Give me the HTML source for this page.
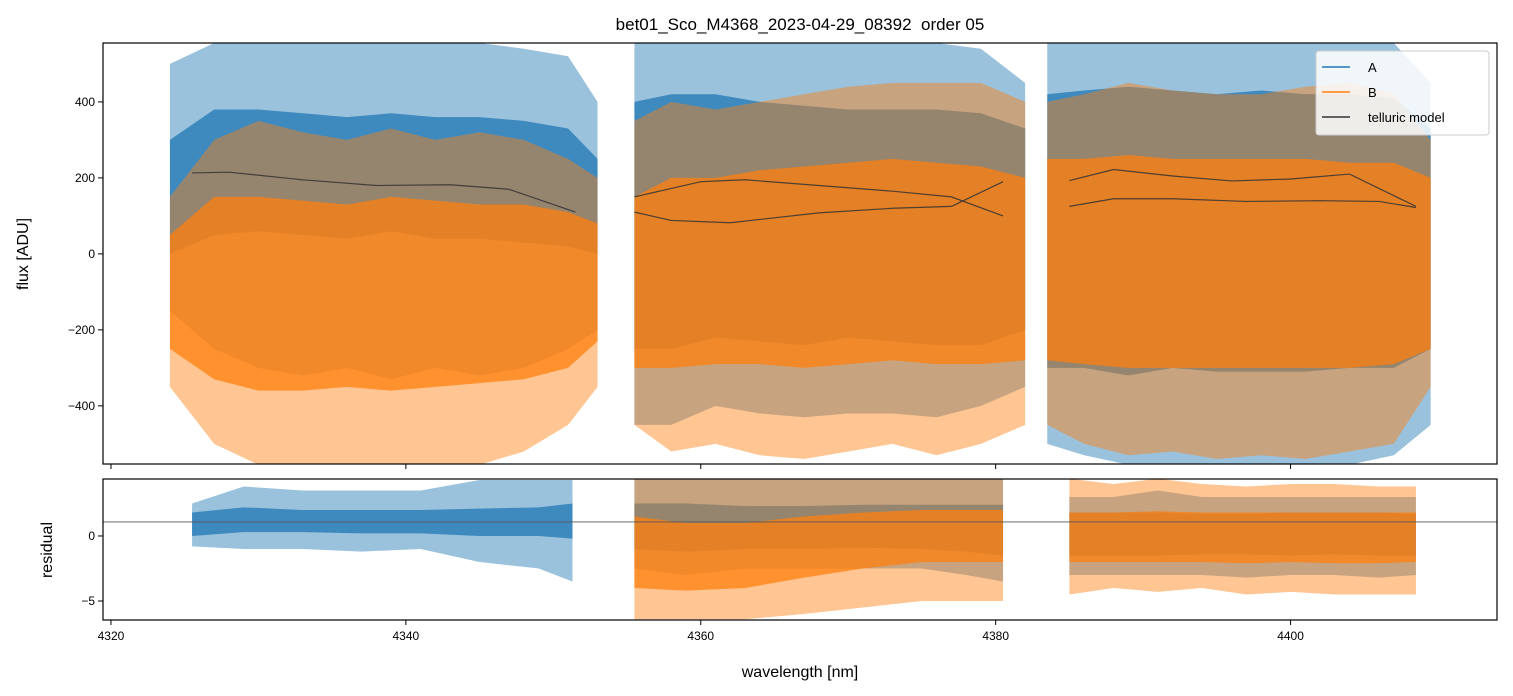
<!DOCTYPE html>
<html><head><meta charset="utf-8"><style>
html,body{margin:0;padding:0;background:#fff;}
svg{display:block;font-family:"Liberation Sans","DejaVu Sans",sans-serif;}
</style></head><body>
<svg id="chart" width="1513" height="696" viewBox="0 0 1513 696">
<rect width="1513" height="696" fill="#fff"/>
<text x="800" y="30" font-size="17" text-anchor="middle" style="white-space:pre">bet01_Sco_M4368_2023-04-29_08392  order 05</text>
<g id="topg"></g>
<g id="botg"></g>
<text transform="translate(28,254) rotate(-90)" font-size="16" text-anchor="middle">flux [ADU]</text>
<text transform="translate(52,550) rotate(-90)" font-size="16" text-anchor="middle">residual</text>
<text x="800" y="677" font-size="16" text-anchor="middle">wavelength [nm]</text>
<g>
<rect x="1316" y="51" width="173" height="84" rx="3" fill="#fff" fill-opacity="0.85" stroke="#ccc"/>
<line x1="1322" y1="67" x2="1350" y2="67" stroke="#1f77b4" stroke-width="1.5"/>
<text x="1368" y="72" font-size="13">A</text>
<line x1="1322" y1="92" x2="1350" y2="92" stroke="#ff7f0e" stroke-width="1.5"/>
<text x="1368" y="97" font-size="13">B</text>
<line x1="1322" y1="117" x2="1350" y2="117" stroke="#333" stroke-width="1.5"/>
<text x="1368" y="122" font-size="13">telluric model</text>
</g>
</svg>
<script>
const xTicks = [4320, 4340, 4360, 4380, 4400];
const fluxTicks = [400, 200, 0, -200, -400];
const resTicks = [0, -5];
const resTickLabels = ["0", "\u22125"];
const fluxSegWl = [
  [4324,4327,4330,4333,4336,4339,4342,4345,4348,4351,4353],
  [4355.5,4358,4361,4364,4367,4370,4373,4376,4379,4382],
  [4383.5,4386,4389,4392,4395,4398,4401,4404,4407,4409.5]
];
const aOuterHi = [[500,555,555,555,555,555,555,555,540,520,400],[555,555,555,555,555,555,555,555,540,450],[555,555,555,555,555,555,555,555,555,450]];
const aOuterLo = [[-150,-250,-300,-320,-300,-330,-300,-320,-300,-250,-200],[-450,-450,-400,-420,-430,-420,-420,-430,-400,-350],[-500,-530,-555,-555,-555,-555,-555,-555,-530,-450]];
const aCoreHi = [[300,380,380,370,360,370,360,360,350,330,250],[400,420,420,400,390,380,380,380,370,330],[420,430,440,430,420,430,420,420,410,330]];
const aCoreLo = [[0,50,60,50,40,60,40,40,30,20,0],[-250,-250,-220,-230,-240,-220,-230,-240,-240,-200],[-300,-300,-320,-300,-310,-310,-310,-300,-300,-250]];
const bOuterHi = [[150,300,350,320,300,330,300,320,300,250,200],[350,400,380,400,420,440,450,450,450,400],[400,420,450,430,420,420,440,450,420,300]];
const bOuterLo = [[-350,-500,-555,-555,-555,-555,-555,-555,-520,-450,-350],[-450,-520,-500,-530,-540,-520,-500,-530,-500,-450],[-450,-500,-530,-520,-540,-530,-540,-520,-500,-350]];
const bCoreHi = [[50,150,150,140,130,150,140,130,130,110,80],[150,200,200,220,230,240,250,240,230,200],[250,250,260,250,250,250,250,240,240,200]];
const bCoreLo = [[-250,-330,-360,-360,-350,-360,-350,-340,-330,-300,-230],[-300,-300,-290,-290,-300,-290,-280,-290,-290,-280],[-280,-290,-300,-300,-300,-300,-300,-300,-290,-250]];
const telWl = [[4325.5,4328,4333,4338,4343,4347,4351.5],[4355.5,4360,4363,4368,4373,4377,4380.5],[4355.5,4358,4362,4368,4373,4377,4380.5],[4385,4388,4392,4396,4400,4404,4408.5],[4385,4388,4392,4397,4402,4406,4408.5]];
const telVal = [[213,215,195,180,182,170,110],[150,190,195,180,165,150,100],[110,88,82,108,120,125,190],[193,222,205,192,197,210,125],[125,145,145,138,140,138,122]];
const resSegWl = [[4325.5,4329,4333,4337,4341,4345,4349,4351.3],[4355.5,4359,4363,4367,4371,4375,4378,4380.5],[4385,4388,4391,4394,4397,4400,4403,4406,4408.5]];
const raHi = [[2.5,3.8,3.5,3.5,3.5,4.3,4.3,4.3],[4.4,4.4,4.4,4.4,4.4,4.4,4.4,4.4],[3,3,3.5,3,3,3,3,3,3]];
const raLo = [[-0.8,-1,-1,-1.2,-1,-2,-2.5,-3.5],[-2.5,-3,-2.5,-2.5,-2.5,-2.5,-3,-3.5],[-3,-3,-3,-3,-3.2,-3,-3,-3.2,-3]];
const raCoreHi = [[1.8,2.2,2,2,2,2.1,2.2,2.5],[2.5,2.5,2.3,2.3,2.4,2.4,2.4,2.4],[1.8,1.8,1.8,1.7,1.7,1.8,1.8,1.8,1.7]];
const raCoreLo = [[0,0.3,0.3,0.2,0.2,0,0,-0.2],[-1,-1.2,-1,-1,-0.9,-1,-1.2,-1.5],[-1.5,-1.5,-1.5,-1.4,-1.4,-1.5,-1.4,-1.5,-1.5]];
const rbHi = [null,[4.4,4.4,4.4,4.4,4.4,4.4,4.4,4.4],[4.4,4,4.4,4,3.8,4,4,3.8,3.8]];
const rbLo = [null,[-6.4,-6.4,-6.4,-6,-5.5,-5,-5,-5],[-4.5,-4,-4.3,-4,-4.5,-4.3,-4.5,-4.5,-4.5]];
const rbCoreHi = [null,[1.5,1,1,1.5,1.8,2,2,2],[1.8,1.8,1.9,1.8,1.8,1.8,1.8,1.8,1.8]];
const rbCoreLo = [null,[-4,-4.2,-4,-3.2,-2.5,-2,-2,-2],[-2,-2,-2,-2,-2.1,-2,-2.1,-2.1,-2]];
const refLine = 1.08;

const NS="http://www.w3.org/2000/svg";
const X0=103,X1=1497,XMIN=4319.46,XMAX=4414.0;
const sx=w=>X0+(w-XMIN)/(XMAX-XMIN)*(X1-X0);
const T0=43,T1=464,F_MAX=555,F_MIN=-553;
const sy=v=>T0+(F_MAX-v)/(F_MAX-F_MIN)*(T1-T0);
const B0=479,B1=620,R_MAX=4.38,R_MIN=-6.46;
const ry=v=>B0+(R_MAX-v)/(R_MAX-R_MIN)*(B1-B0);
function mk(tag,attrs,parent){const e=document.createElementNS(NS,tag);for(const k in attrs)e.setAttribute(k,attrs[k]);parent.appendChild(e);return e;}
const topG=document.getElementById('topg'),botG=document.getElementById('botg');
const defs=mk('defs',{},document.getElementById('chart'));
const c1=mk('clipPath',{id:'ct'},defs);mk('rect',{x:X0,y:T0,width:X1-X0,height:T1-T0},c1);
const c2=mk('clipPath',{id:'cb'},defs);mk('rect',{x:X0,y:B0,width:X1-X0,height:B1-B0},c2);
const gt=mk('g',{'clip-path':'url(#ct)'},topG),gb=mk('g',{'clip-path':'url(#cb)'},botG);
function band(g,wl,hi,lo,yf,col,op,name){
  let pts=wl.map((w,i)=>sx(w)+','+yf(hi[i]));
  for(let i=wl.length-1;i>=0;i--)pts.push(sx(wl[i])+','+yf(lo[i]));
  const p=mk('polygon',{points:pts.join(' '),fill:col,'fill-opacity':op},g);
  
  
}
for(let s=0;s<3;s++){
  band(gt,fluxSegWl[s],aOuterHi[s],aOuterLo[s],sy,'#1f77b4',0.45,'series-a-envelope');
  band(gt,fluxSegWl[s],aCoreHi[s],aCoreLo[s],sy,'#1f77b4',0.75,'series-a-core');
}
for(let s=0;s<3;s++){
  band(gt,fluxSegWl[s],bOuterHi[s],bOuterLo[s],sy,'#ff7f0e',0.45,'series-b-envelope');
  band(gt,fluxSegWl[s],bCoreHi[s],bCoreLo[s],sy,'#ff7f0e',0.75,'series-b-core');
}
telWl.forEach((wl,i)=>{
  const p=mk('polyline',{points:wl.map((w,j)=>sx(w)+','+sy(telVal[i][j])).join(' '),fill:'none',stroke:'#333',"stroke-width":1.2,"stroke-opacity":0.85},gt);
  
  
});
for(let s=0;s<3;s++){
  band(gb,resSegWl[s],raHi[s],raLo[s],ry,'#1f77b4',0.45,'residual-a-envelope');
  band(gb,resSegWl[s],raCoreHi[s],raCoreLo[s],ry,'#1f77b4',0.75,'residual-a-core');
}
for(let s=0;s<3;s++){ if(!rbHi[s])continue;
  band(gb,resSegWl[s],rbHi[s],rbLo[s],ry,'#ff7f0e',0.45,'residual-b-envelope');
  band(gb,resSegWl[s],rbCoreHi[s],rbCoreLo[s],ry,'#ff7f0e',0.75,'residual-b-core');
}
const rl=mk('line',{x1:X0,x2:X1,y1:ry(refLine),y2:ry(refLine),stroke:'#555','stroke-width':0.8},gb);


const f1=mk('rect',{x:X0,y:T0,width:X1-X0,height:T1-T0,fill:'none',stroke:'#000','stroke-width':1.2},topG);


const f2=mk('rect',{x:X0,y:B0,width:X1-X0,height:B1-B0,fill:'none',stroke:'#000','stroke-width':1.2},botG);


fluxTicks.forEach(v=>{
  mk('line',{x1:X0-5,x2:X0,y1:sy(v),y2:sy(v),stroke:'#000'},topG);
  const t=mk('text',{x:X0-8,y:sy(v)+4,'font-size':12,'text-anchor':'end'},topG);
  t.textContent=v<0?'\u2212'+(-v):String(v);
  
  
});
resTicks.forEach((v,i)=>{
  mk('line',{x1:X0-5,x2:X0,y1:ry(v),y2:ry(v),stroke:'#000'},botG);
  const t=mk('text',{x:X0-8,y:ry(v)+4,'font-size':12,'text-anchor':'end'},botG);
  t.textContent=resTickLabels[i];
  
  
});
xTicks.forEach(v=>{
  mk('line',{x1:sx(v),x2:sx(v),y1:T1,y2:T1+5,stroke:'#000'},topG);
  mk('line',{x1:sx(v),x2:sx(v),y1:B1,y2:B1+5,stroke:'#000'},botG);
  const t=mk('text',{x:sx(v),y:B1+20,'font-size':12,'text-anchor':'middle'},botG);
  t.textContent=String(v);
  
  
});
</script>
</body></html>
